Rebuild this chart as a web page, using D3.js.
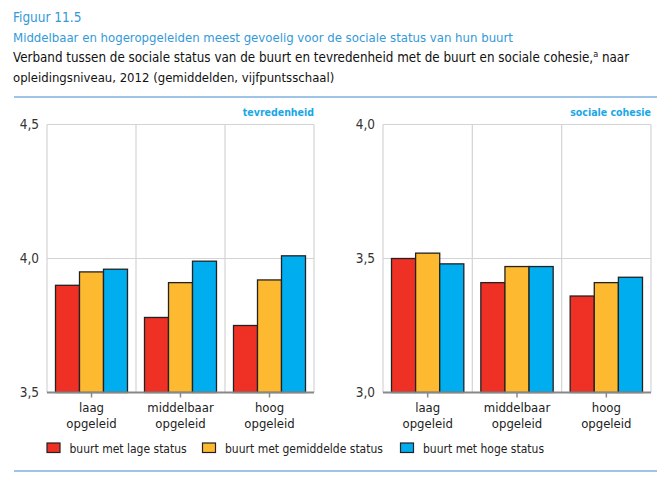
<!DOCTYPE html>
<html><head><meta charset="utf-8">
<script src="https://cdn.jsdelivr.net/npm/d3@7"></script>
<style>body{margin:0;background:#fff}svg{display:block}text{font-family:"DejaVu Sans Condensed","DejaVu Sans",sans-serif}</style>
</head><body>
<script>
const categories = [["laag","opgeleid"],["middelbaar","opgeleid"],["hoog","opgeleid"]];
const catKeys = ["laag","middelbaar","hoog"];
const seriesNames = ["buurt met lage status","buurt met gemiddelde status","buurt met hoge status"];
const tevredenheid = [[3.90,3.95,3.96],[3.78,3.91,3.99],[3.75,3.92,4.01]];
const cohesie = [[3.50,3.52,3.48],[3.41,3.47,3.47],[3.36,3.41,3.43]];
const ticksLeft = [3.5,4.0,4.5];
const ticksRight = [3.0,3.5,4.0];
const colors = ["#ee3124","#fdb930","#00adef"];

const W=672,H=477;
const svg=d3.select("body").append("svg").attr("width",W).attr("height",H);
const titleBlue="#3399d8";
svg.append("text").attr("x",13).attr("y",22).attr("fill",titleBlue).attr("font-size",13.5).text("Figuur 11.5");
svg.append("text").attr("x",13).attr("y",42).attr("fill",titleBlue).attr("font-size",13.05).text("Middelbaar en hogeropgeleiden meest gevoelig voor de sociale status van hun buurt");
const sub=svg.append("text").attr("x",13).attr("y",62).attr("fill","#111").attr("font-size",13.3);
sub.append("tspan").text("Verband tussen de sociale status van de buurt en tevredenheid met de buurt en sociale cohesie,");
sub.append("tspan").attr("font-size",9).attr("dy",-5).text("a");
sub.append("tspan").attr("dy",5).text(" naar");
svg.append("text").attr("x",13).attr("y",82).attr("fill","#111").attr("font-size",13.0).text("opleidingsniveau, 2012 (gemiddelden, vijfpuntsschaal)");
svg.append("line").attr("x1",14).attr("x2",657).attr("y1",97).attr("y2",97).attr("stroke","#9dc4e6").attr("stroke-width",2);
svg.append("line").attr("x1",14).attr("x2",657).attr("y1",471).attr("y2",471).attr("stroke","#9dc4e6").attr("stroke-width",2);

function panel(data,ticks,x0,x1,label){
  const top=124.5,bottom=392.5;
  const y=d3.scaleLinear().domain([ticks[0],ticks[ticks.length-1]]).range([bottom,top]);
  const x=d3.scaleBand().domain(catKeys).range([x0,x1]);
  const xs=d3.scaleBand().domain(d3.range(3)).range([8.5,x.bandwidth()-8.5]);
  const g=svg.append("g");
  g.selectAll(".hg").data(ticks.slice(1)).join("line").attr("x1",x0).attr("x2",x1)
    .attr("y1",d=>y(d)).attr("y2",d=>y(d)).attr("stroke","#d4d4d4").attr("stroke-width",1.2);
  const vx=[x0].concat(catKeys.map(c=>x(c)+x.bandwidth()));
  g.selectAll(".vg").data(vx).join("line").attr("x1",d=>d).attr("x2",d=>d)
    .attr("y1",top).attr("y2",bottom).attr("stroke","#d4d4d4").attr("stroke-width",1.2);
  catKeys.forEach((c,i)=>{
    g.selectAll(null).data(data[i]).join("rect")
      .attr("x",(d,j)=>x(c)+xs(j)).attr("width",xs.bandwidth())
      .attr("y",d=>y(d)).attr("height",d=>bottom-y(d))
      .attr("fill",(d,j)=>colors[j]).attr("stroke","#222").attr("stroke-width",1.3);
  });
  g.append("line").attr("x1",x0).attr("x2",x1).attr("y1",bottom).attr("y2",bottom).attr("stroke","#888").attr("stroke-width",2);
  g.selectAll(".tk").data(catKeys).join("line").attr("x1",d=>x(d)+x.bandwidth()/2).attr("x2",d=>x(d)+x.bandwidth()/2)
    .attr("y1",bottom).attr("y2",bottom+5).attr("stroke","#888").attr("stroke-width",1.5);
  g.selectAll(".yl").data(ticks).join("text").attr("x",x0-8).attr("y",d=>y(d)+4.5).attr("text-anchor","end")
    .attr("font-size",13.5).attr("fill","#333").text(d=>d.toFixed(1).replace(".",","));
  categories.forEach((c,i)=>{
    c.forEach((t,k)=>g.append("text").attr("x",x(catKeys[i])+x.bandwidth()/2).attr("y",bottom+19+k*16)
      .attr("text-anchor","middle").attr("font-size",13).attr("fill","#222").text(t));
  });
  g.append("text").attr("x",x1).attr("y",116).attr("text-anchor","end").attr("font-size",10.5)
    .attr("font-weight","bold").attr("fill","#1aa7e6").text(label);
}
panel(tevredenheid,ticksLeft,47,314,"tevredenheid");
panel(cohesie,ticksRight,383,651,"sociale cohesie");

const legX=[47,202.5,400.5];
seriesNames.forEach((s,i)=>{
  svg.append("rect").attr("x",legX[i]).attr("y",443).attr("width",13).attr("height",9.5)
    .attr("fill",colors[i]).attr("stroke","#222").attr("stroke-width",1.2);
  svg.append("text").attr("x",legX[i]+22.5).attr("y",453).attr("font-size",12).attr("fill","#222").text(s);
});
</script>
</body></html>
